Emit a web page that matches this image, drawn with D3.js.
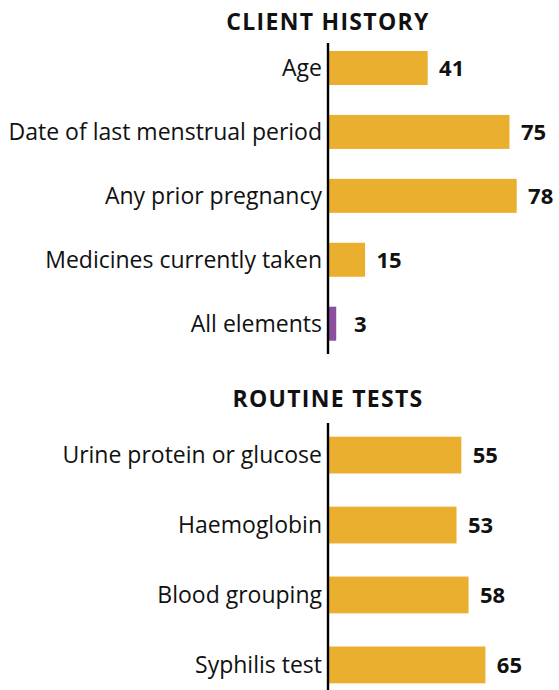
<!DOCTYPE html>
<html>
<head>
<meta charset="utf-8">
<script src="https://cdn.jsdelivr.net/npm/d3@7"></script>
<style>
  body { margin: 0; background: #fff; }
  svg { display: block; }
</style>
</head>
<body>
<script>
// Data
const historyLabels = ["Age", "Date of last menstrual period", "Any prior pregnancy", "Medicines currently taken", "All elements"];
const historyValues = [41, 75, 78, 15, 3];
const testLabels = ["Urine protein or glucose", "Haemoglobin", "Blood grouping", "Syphilis test"];
const testValues = [55, 53, 58, 65];
const highlightLabel = "All elements";

const width = 559, height = 690;
const fontFamily = "'Open Sans', Lato, sans-serif";
const barColor = "#EBAF2F";
const highlightColor = "#8C4E9F";

const svg = d3.select("body").append("svg")
    .attr("width", width)
    .attr("height", height)
    .style("font-family", fontFamily);

const axisX = 328;

// shared value scale
const xScale = d3.scaleLinear()
    .domain([0, 78])
    .range([axisX + 1, 516.7]);

function drawPanel(title, labels, values, cfg) {
    const g = svg.append("g");

    const yScale = d3.scaleBand()
        .domain(labels)
        .range([cfg.top, cfg.bottom])
        .paddingInner(cfg.pad)
        .paddingOuter(0);

    g.append("text")
        .attr("x", axisX)
        .attr("y", cfg.titleY)
        .attr("text-anchor", "middle")
        .style("font-size", "23px")
        .style("font-weight", "bold")
        .style("letter-spacing", "1.3px")
        .style("fill", "#111")
        .text(title);

    const data = labels.map((d, i) => ({ label: d, value: values[i] }));

    g.selectAll("rect")
        .data(data)
        .enter()
        .append("rect")
        .attr("x", xScale(0))
        .attr("y", d => yScale(d.label))
        .attr("width", d => xScale(d.value) - xScale(0))
        .attr("height", yScale.bandwidth())
        .attr("fill", d => d.label === highlightLabel ? highlightColor : barColor);

    g.selectAll(".value")
        .data(data)
        .enter()
        .append("text")
        .attr("class", "value")
        .attr("x", d => xScale(d.value) + 24)
        .attr("y", d => yScale(d.label) + yScale.bandwidth() / 2)
        .attr("dy", "0.36em")
        .attr("text-anchor", "middle")
        .style("font-size", "22px")
        .style("font-weight", "bold")
        .style("fill", "#111")
        .text(d => d.value);

    const yAxis = d3.axisLeft(yScale).tickSize(0).tickPadding(6);
    const ax = g.append("g")
        .attr("transform", `translate(${axisX}, 0)`)
        .call(yAxis);
    ax.select(".domain").remove();
    ax.selectAll("text")
        .attr("dy", "0.36em")
        .style("font-size", "23px")
        .style("font-family", fontFamily)
        .style("fill", "#111");

    g.append("line")
        .attr("x1", axisX).attr("x2", axisX)
        .attr("y1", cfg.lineTop).attr("y2", cfg.lineBottom)
        .attr("stroke", "#000")
        .attr("stroke-width", 2.4);
}

drawPanel("CLIENT HISTORY", historyLabels, historyValues, {
    titleY: 30, top: 51, bottom: 340.7, pad: 0.468, lineTop: 43, lineBottom: 354
});

drawPanel("ROUTINE TESTS", testLabels, testValues, {
    titleY: 407, top: 436.7, bottom: 683.3, pad: 0.474, lineTop: 423, lineBottom: 690
});
</script>
</body>
</html>
